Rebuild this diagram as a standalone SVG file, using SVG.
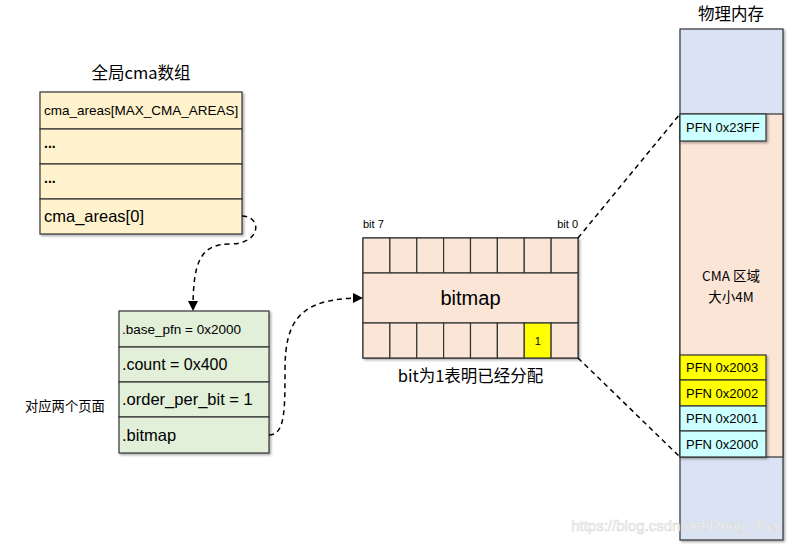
<svg xmlns="http://www.w3.org/2000/svg" width="789" height="546" viewBox="0 0 789 546">
<defs>
<marker id="arr" markerWidth="10" markerHeight="10" refX="9" refY="5" orient="auto" markerUnits="userSpaceOnUse">
<path d="M0,0 L10,5 L0,10 z" fill="#000"/>
</marker>
<filter id="sh" x="-10%" y="-10%" width="130%" height="130%">
<feDropShadow dx="1.5" dy="1.5" stdDeviation="0.8" flood-color="#000" flood-opacity="0.35"/>
</filter>
<style>
text{font-family:"Liberation Sans","Noto Sans CJK SC",sans-serif;fill:#000}
.y{fill:#FFF2CC;stroke:#333;stroke-width:1.2}
.g{fill:#E2EFD9;stroke:#333;stroke-width:1.2}
.p{fill:#FBE5D6;stroke:#333;stroke-width:1.2}
.b{fill:#DAE3F3;stroke:#333;stroke-width:1.2}
.c{fill:#CCFFFF;stroke:#333;stroke-width:1.2}
.yy{fill:#FFFF00;stroke:#333;stroke-width:1.2}
.d{fill:none;stroke:#000;stroke-width:1.5;stroke-dasharray:5,4}
.cjk{font-family:"Noto Sans CJK SC",sans-serif}
</style>
</defs>
<rect width="789" height="546" fill="#fff"/>

<g id="global-cma">
<text x="141" y="79" font-size="16.5" text-anchor="middle" class="cjk">全局cma数组</text>
<g filter="url(#sh)">
<rect class="y" x="40" y="92" width="202" height="37"/>
<rect class="y" x="40" y="129" width="202" height="35"/>
<rect class="y" x="40" y="164" width="202" height="35"/>
<rect class="y" x="40" y="199" width="202" height="35"/>
</g>
<text x="44" y="115" font-size="13.5">cma_areas[MAX_CMA_AREAS]</text>
<text x="44" y="148" font-size="14" font-weight="bold">...</text>
<text x="44" y="183" font-size="14" font-weight="bold">...</text>
<text x="44" y="222" font-size="16.5">cma_areas[0]</text>
</g>

<g id="cma-struct">
<g filter="url(#sh)">
<rect class="g" x="119" y="311" width="150" height="36"/>
<rect class="g" x="119" y="347" width="150" height="35"/>
<rect class="g" x="119" y="382" width="150" height="35"/>
<rect class="g" x="119" y="417" width="150" height="36"/>
</g>
<text x="122" y="334" font-size="13.5">.base_pfn = 0x2000</text>
<text x="122" y="370" font-size="16">.count = 0x400</text>
<text x="122" y="405" font-size="16.5">.order_per_bit = 1</text>
<text x="122" y="441" font-size="16.5">.bitmap</text>
</g>

<g id="note">
<text x="25" y="411" font-size="13.3" class="cjk">对应两个页面</text>
</g>

<g id="bitmap">
<text x="363" y="228" font-size="11">bit 7</text>
<text x="578" y="228" font-size="11" text-anchor="end">bit 0</text>
<g filter="url(#sh)">
<rect class="p" x="363" y="238" width="215" height="120"/>
</g>
<g>
<rect class="p" x="363" y="238" width="26.875" height="35"/>
<rect class="p" x="389.875" y="238" width="26.875" height="35"/>
<rect class="p" x="416.75" y="238" width="26.875" height="35"/>
<rect class="p" x="443.625" y="238" width="26.875" height="35"/>
<rect class="p" x="470.5" y="238" width="26.875" height="35"/>
<rect class="p" x="497.375" y="238" width="26.875" height="35"/>
<rect class="p" x="524.25" y="238" width="26.875" height="35"/>
<rect class="p" x="551.125" y="238" width="26.875" height="35"/>
<rect class="p" x="363" y="273" width="215" height="50"/>
<rect class="p" x="363" y="323" width="26.875" height="35"/>
<rect class="p" x="389.875" y="323" width="26.875" height="35"/>
<rect class="p" x="416.75" y="323" width="26.875" height="35"/>
<rect class="p" x="443.625" y="323" width="26.875" height="35"/>
<rect class="p" x="470.5" y="323" width="26.875" height="35"/>
<rect class="p" x="497.375" y="323" width="26.875" height="35"/>
<rect class="yy" x="524.25" y="323" width="26.875" height="35"/>
<rect class="p" x="551.125" y="323" width="26.875" height="35"/>
</g>
<text x="470.5" y="305" font-size="20" text-anchor="middle">bitmap</text>
<text x="537.7" y="345" font-size="11" text-anchor="middle">1</text>
<text x="470.5" y="382" font-size="16.5" text-anchor="middle" class="cjk">bit为1表明已经分配</text>
</g>

<g id="memory">
<text x="731" y="20" font-size="16.5" text-anchor="middle" class="cjk">物理内存</text>
<g filter="url(#sh)">
<rect class="b" x="680" y="29" width="103" height="511"/>
</g>
<rect class="p" x="680" y="114" width="103" height="343"/>
<text x="731" y="281" font-size="13.5" text-anchor="middle" class="cjk">CMA 区域</text>
<text x="731" y="302" font-size="13.5" text-anchor="middle" class="cjk">大小4M</text>
<g filter="url(#sh)">
<rect class="c" x="680" y="114" width="86" height="27"/>
<rect class="yy" x="680" y="355" width="86" height="25"/>
<rect class="yy" x="680" y="380" width="86" height="26"/>
<rect class="c" x="680" y="406" width="86" height="25"/>
<rect class="c" x="680" y="431" width="86" height="26"/>
</g>
<text x="686" y="132" font-size="13">PFN 0x23FF</text>
<text x="686" y="372" font-size="13">PFN 0x2003</text>
<text x="686" y="398" font-size="13">PFN 0x2002</text>
<text x="686" y="423" font-size="13">PFN 0x2001</text>
<text x="686" y="449" font-size="13">PFN 0x2000</text>
</g>

<g id="connectors">
<path class="d" d="M242,216 C262,216 262,244 230,244 C200,244 193,262 193,310" marker-end="url(#arr)"/>
<path class="d" d="M269,435 C285,435 285,410 285,370 C285,320 300,298 362,298" marker-end="url(#arr)"/>
<path class="d" d="M578,238 L680,114"/>
<path class="d" d="M578,358 L680,457"/>
</g>

<text x="778" y="531" font-size="15" text-anchor="end" style="fill:#ffffff;stroke:#d8d8d8;stroke-width:0.6">https://blog.csdn.net/Rong_Toa</text>
</svg>
